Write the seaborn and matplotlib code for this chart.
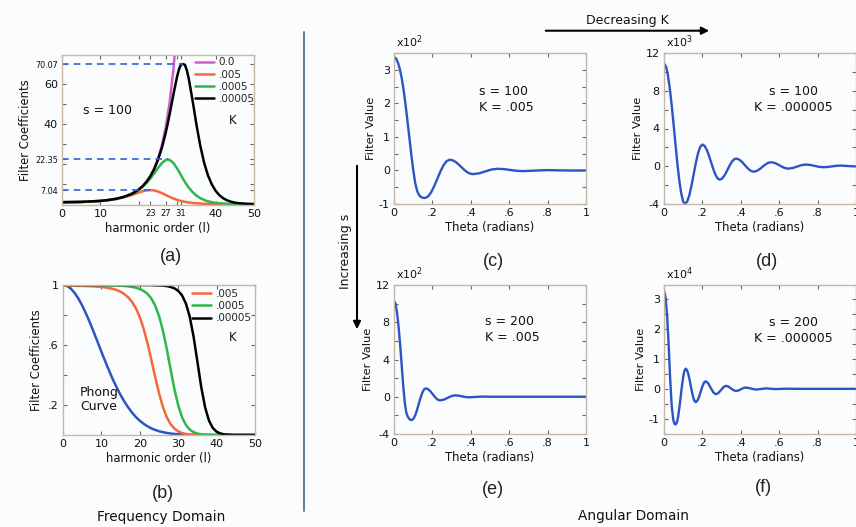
import matplotlib
matplotlib.use("Agg")
import matplotlib.pyplot as plt
import seaborn as sns
from matplotlib.patches import FancyArrowPatch
from matplotlib.lines import Line2D
from matplotlib.ticker import FixedLocator, MultipleLocator

# ---------------- data: panel (a) ----------------
l_a = [0, 5, 10, 12, 14, 16, 18, 19, 20, 21, 22, 23, 24, 25, 26, 27, 27.5, 28, 29, 30,
       30.5, 31, 31.5, 32, 32.5, 33, 34, 35, 36, 37, 38, 39, 40, 41, 42, 43, 44, 45, 46, 48, 50]
orange_a = [0.995, 1.126, 1.626, 2.011, 2.572, 3.378, 4.48, 5.13, 5.80, 6.43, 6.89, 7.05, 6.88,
            6.34, 5.53, 4.60, 4.13, 3.68, 2.86, 2.17, 1.88, 1.62, 1.39, 1.19, 1.01, 0.86, 0.62,
            0.44, 0.31, 0.21, 0.15, 0.10, 0.07, 0.045, 0.03, 0.02, 0.012, 0.008, 0.005, 0.002, 0.001]
green_a = [1.0, 1.133, 1.646, 2.050, 2.654, 3.573, 4.99, 5.97, 7.19, 8.71, 10.58, 12.82, 15.37,
           18.08, 20.52, 22.10, 22.35, 22.20, 20.65, 17.82, 16.15, 14.44, 12.76, 11.16, 9.67, 8.32,
           6.06, 4.33, 3.05, 2.13, 1.46, 1.0, 0.67, 0.45, 0.30, 0.19, 0.125, 0.08, 0.05, 0.02, 0.007]
black_a = [1.0, 1.133, 1.649, 2.054, 2.664, 3.595, 5.04, 6.07, 7.37, 9.03, 11.18, 13.95, 17.53,
           22.18, 28.16, 35.68, 40.02, 44.72, 54.73, 64.07, 67.63, 69.95, 70.07, 69.72, 67.04, 62.89,
           51.88, 39.92, 29.30, 20.83, 14.47, 9.95, 6.70, 4.47, 2.95, 1.93, 1.25, 0.80, 0.51, 0.20, 0.07]
l_pink = [0, 5, 10, 12, 14, 16, 18, 19, 20, 21, 22, 23, 24, 25, 26, 27, 28, 29, 30]
pink_a = [1.0, 1.133, 1.649, 2.054, 2.664, 3.597, 5.053, 6.08, 7.389, 9.07, 11.25, 14.08, 17.81,
          22.76, 29.37, 38.28, 50.40, 67.02, 90.02]
peak_l = [23, 27.5, 31.5]
peak_val = [7.04, 22.35, 70.07]
legend_a = ["0.0", ".005", ".0005", ".00005"]
xtick_a = [0, 10, 23, 27, 31, 40, 50]
ytick_a = [7.04, 22.35, 40, 60, 70.07]
ytick_a_labels = ["7.04", "22.35", "40", "60", "70.07"]

# ---------------- data: panel (b) ----------------
l_b = list(range(0, 51))
phong_b = [1.000, .994, .977, .948, .910, .863, .809, .750, .686, .621, .555, .491, .429, .370,
           .316, .266, .222, .183, .149, .119, .095, .075, .058, .044, .034, .025, .019, .014,
           .010, .007, .005, .0035, .0024, .0017, .0011, .0007] + [0.0] * 15
orange_b = [.995, .995, .995, .995, .994, .994, .993, .992, .991, .989, .987, .984, .979, .974,
            .966, .955, .939, .917, .887, .844, .786, .708, .613, .502, .387, .279, .188, .120,
            .073, .043, .024, .013, .007, .004, .002, .001] + [0.0] * 15
green_b = [1.0] * 10 + [.999, .998, .998, .997, .996, .995, .994, .991, .987, .982, .973, .960,
                        .941, .910, .863, .794, .699, .577, .440, .308, .198, .118, .067, .036,
                        .019, .0095, .0047, .002, .001] + [0.0] * 12
black_b = [1.0] * 21 + [.9996, .9994, .999, .998, .997, .996, .993, .987, .978, .961, .931, .877,
                        .789, .656, .489, .320, .185, .097, .047, .022, .0099, .0044, .0019,
                        .0008, .0003] + [0.0] * 5
legend_b = [".005", ".0005", ".00005"]

# ---------------- data: angular panels ----------------
theta_c = [0, .01, .02, .03, .04, .05, .06, .07, .08, .09, .10, .11, .12, .13, .14, .15, .161,
           .1771, .1933, .2094, .2255, .2416, .2578, .2739, .29,
           .305, .32, .335, .35, .365, .38, .395, .41,
           .4425, .475, .5075, .54, .5725, .605, .6375, .67, .735, .80, .865, .93, 1.0]
val_c = [3.38, 3.34, 3.22, 3.03, 2.76, 2.40, 1.97, 1.48, 0.98, 0.48, 0.02, -0.36, -0.60, -0.73,
         -0.79, -0.815, -0.82,
         -0.777, -0.654, -0.468, -0.25, -0.032, 0.154, 0.277, 0.32,
         0.304, 0.257, 0.187, 0.105, 0.023, -0.047, -0.094, -0.11,
         -0.087, -0.03, 0.027, 0.05, 0.04, 0.015, -0.01, -0.02, -0.005, 0.01, 0.002, -0.004, 0.0]

theta_d = [0, .01, .02, .03, .04, .05, .06, .07, .08, .09, .10, .109,
           .1204, .1318, .1431, .1545, .1659, .1773, .1886, .20,
           .2113, .2225, .2338, .245, .2563, .2675, .2788, .29,
           .3006, .3113, .3219, .3325, .3431, .3538, .3644, .375,
           .3865, .398, .4095, .421, .4325, .444, .4555, .467,
           .4783, .4895, .5008, .512, .5233, .5345, .5458, .557,
           .5684, .5798, .5911, .6025, .6139, .6253, .6366, .648,
           .6705, .693, .7155, .738, .761, .784, .807, .83,
           .8525, .875, .8975, .92, .96, 1.0]
val_d = [10.9, 10.59, 9.70, 8.29, 6.47, 4.42, 2.28, 0.22, -1.55, -2.91, -3.75, -3.95,
         -3.76, -3.08, -2.06, -0.85, 0.36, 1.38, 2.06, 2.3,
         2.16, 1.75, 1.15, 0.44, -0.27, -0.875, -1.28, -1.42,
         -1.335, -1.09, -0.73, -0.305, 0.12, 0.48, 0.725, 0.81,
         0.758, 0.608, 0.384, 0.12, -0.144, -0.368, -0.518, -0.57,
         -0.532, -0.425, -0.265, -0.075, 0.115, 0.275, 0.382, 0.42,
         0.395, 0.322, 0.213, 0.085, -0.043, -0.152, -0.225, -0.25,
         -0.187, -0.035, 0.117, 0.18, 0.139, 0.04, -0.059, -0.10,
         -0.075, -0.015, 0.045, 0.07, 0.02, -0.02]

theta_e = [0, .008, .016, .024, .032, .040, .048, .056, .064, .072, .080, .086, .092,
           .1011, .1103, .1194, .1285, .1376, .1468, .1559, .165,
           .1744, .1838, .1931, .2025, .2119, .2213, .2306, .24,
           .2595, .279, .2985, .318, .336, .354, .372, .39,
           .425, .46, .50, .6, .7, .8, .9, 1.0]
val_e = [10.3, 10.0, 9.0, 7.5, 5.6, 3.4, 1.2, -0.6, -1.7, -2.15, -2.40, -2.49, -2.5,
         -2.37, -2.0, -1.45, -0.8, -0.149, 0.402, 0.771, 0.9,
         0.851, 0.711, 0.502, 0.255, 0.008, -0.201, -0.341, -0.39,
         -0.311, -0.12, 0.071, 0.15, 0.119, 0.045, -0.029, -0.06,
         -0.02, 0.02, 0.0, 0.0, 0.0, 0.0, 0.0, 0.0]

theta_f = [0, .008, .016, .024, .032, .040, .048, .055, .061,
           .0675, .074, .0805, .087, .0935, .100, .1065, .113,
           .1195, .126, .1325, .139, .1455, .152, .1585, .165,
           .1715, .178, .1845, .191, .1975, .204, .2105, .217,
           .230, .243, .257, .270, .283, .297, .310, .323,
           .336, .349, .362, .375, .388, .401, .414, .427,
           .453, .48, .507, .533, .56, .585, .61, .65, .7, .8, .9, 1.0]
val_f = [3.27, 3.05, 2.45, 1.5, 0.35, -0.55, -1.02, -1.17, -1.18,
         -1.11, -0.91, -0.608, -0.255, 0.098, 0.40, 0.60, 0.67,
         0.628, 0.508, 0.327, 0.115, -0.097, -0.278, -0.398, -0.44,
         -0.414, -0.339, -0.227, -0.095, 0.037, 0.149, 0.224, 0.25,
         0.187, 0.035, -0.117, -0.18, -0.14, -0.04, 0.06, 0.10,
         0.075, 0.015, -0.045, -0.07, -0.053, -0.013, 0.028, 0.045,
         0.01, -0.025, -0.003, 0.015, 0.0, -0.008, 0.0, 0.004, 0.0, 0.0, 0.0, 0.0]

theta_ticks = [0, .2, .4, .6, .8, 1.0]
theta_labels = ["0", ".2", ".4", ".6", ".8", "1"]

# ---------------- style ----------------
sns.set_theme(style="ticks")
plt.rcParams["font.family"] = ["DejaVu Sans"]
BG = "#fbfcfd"
SPINE = "#c9b7a5"
ORANGE = "#f4693c"
GREEN = "#2fb64a"
MAGENTA = "#cf5fc8"
BLUE = "#2c55c3"
DASH = "#3262d4"
TXT = "#111111"

W, H = 856, 527
fig = plt.figure(figsize=(W / 100, H / 100), dpi=100, facecolor=BG)


def add_ax(x0, y0, x1, y1):
    ax = fig.add_axes([x0 / W, 1 - y1 / H, (x1 - x0) / W, (y1 - y0) / H])
    ax.set_facecolor(BG)
    for s in ax.spines.values():
        s.set_color(SPINE)
        s.set_linewidth(1.0)
    ax.tick_params(which="both", direction="in", top=True, right=True, length=3,
                   width=0.8, color="#666666", labelsize=8, pad=3, labelcolor=TXT)
    return ax


# ---------------- panel (a) ----------------
axa = add_ax(62, 55, 254, 205)
sns.lineplot(x=l_pink, y=pink_a, ax=axa, color=MAGENTA, linewidth=1.8, label=legend_a[0], legend=False)
sns.lineplot(x=l_a, y=orange_a, ax=axa, color=ORANGE, linewidth=1.8, label=legend_a[1], legend=False)
sns.lineplot(x=l_a, y=green_a, ax=axa, color=GREEN, linewidth=1.8, label=legend_a[2], legend=False)
sns.lineplot(x=l_a, y=black_a, ax=axa, color="black", linewidth=1.8, label=legend_a[3], legend=False)
axa.hlines(peak_val, 0, peak_l, colors=DASH, linestyles=(0, (4, 3)), linewidth=1.2, clip_on=False)
axa.set_xlim(0, 50)
axa.set_ylim(-0.4, 74.6)
axa.set_xticks(xtick_a)
axa.set_xticklabels([str(v) for v in xtick_a])
for lab, fs in zip(axa.get_xticklabels(), [8, 8, 6, 6, 6, 8, 8]):
    lab.set_fontsize(fs)
axa.xaxis.set_minor_locator(FixedLocator([20, 30]))
axa.set_yticks(ytick_a)
axa.set_yticklabels(ytick_a_labels)
for lab, fs in zip(axa.get_yticklabels(), [5.8, 5.8, 8, 8, 5.8]):
    lab.set_fontsize(fs)
axa.yaxis.set_minor_locator(FixedLocator([10, 20, 30, 50]))
axa.set_xlabel("harmonic order (l)", fontsize=8.4, labelpad=2, color=TXT)
axa.set_ylabel("Filter Coefficients", fontsize=8.4, labelpad=2, color=TXT)
axa.legend(loc="upper left", bbox_to_anchor=(0.693, 0.985), frameon=False, fontsize=7.5,
           handlelength=1.8, handletextpad=0.45, labelspacing=0.22, borderpad=0, borderaxespad=0)
axa.text(0.89, 0.56, "K", transform=axa.transAxes, ha="center", va="center", fontsize=8.5, color=TXT)
axa.text(0.109, 0.633, "s = 100", transform=axa.transAxes, ha="left", va="center", fontsize=9, color=TXT)

# ---------------- panel (b) ----------------
axb = add_ax(63, 285, 255, 435)
sns.lineplot(x=l_b, y=phong_b, ax=axb, color=BLUE, linewidth=1.8, legend=False)
sns.lineplot(x=l_b, y=orange_b, ax=axb, color=ORANGE, linewidth=1.8, label=legend_b[0], legend=False)
sns.lineplot(x=l_b, y=green_b, ax=axb, color=GREEN, linewidth=1.8, label=legend_b[1], legend=False)
sns.lineplot(x=l_b, y=black_b, ax=axb, color="black", linewidth=1.8, label=legend_b[2], legend=False)
axb.set_xlim(0, 50)
axb.set_ylim(0, 1.0)
axb.set_xticks([0, 10, 20, 30, 40, 50])
axb.set_yticks([0.2, 0.6, 1.0])
axb.set_yticklabels([".2", ".6", "1"])
axb.yaxis.set_minor_locator(FixedLocator([0.4, 0.8]))
axb.set_xlabel("harmonic order (l)", fontsize=8.4, labelpad=2, color=TXT)
axb.set_ylabel("Filter Coefficients", fontsize=8.4, labelpad=4, color=TXT)
handles, labels = axb.get_legend_handles_labels()
axb.legend(handles, labels, loc="upper left", bbox_to_anchor=(0.672, 0.975), frameon=False,
           fontsize=7.5, handlelength=1.8, handletextpad=0.45, labelspacing=0.22, borderpad=0,
           borderaxespad=0)
axb.text(0.885, 0.653, "K", transform=axb.transAxes, ha="center", va="center", fontsize=8.5, color=TXT)
axb.text(0.0885, 0.327, "Phong\nCurve", transform=axb.transAxes, ha="left", va="top",
         fontsize=9, linespacing=1.15, color=TXT)


# ---------------- angular panels ----------------
def angular(box, theta, vals, ylim, major, minor_step, expo, txt, txt_xy, ha):
    ax = add_ax(*box)
    sns.lineplot(x=theta, y=vals, ax=ax, color=BLUE, linewidth=1.7, legend=False)
    ax.set_xlim(0, 1)
    ax.set_ylim(*ylim)
    ax.set_xticks(theta_ticks)
    ax.set_xticklabels(theta_labels)
    ax.set_yticks(major)
    ax.set_yticklabels([str(m) for m in major])
    ax.yaxis.set_minor_locator(MultipleLocator(minor_step))
    ax.set_xlabel("Theta (radians)", fontsize=8.4, labelpad=2, color=TXT)
    ax.set_ylabel("Filter Value", fontsize=8.2, labelpad=2, color=TXT)
    ax.text(0.01, 1.02, "x10$^{%d}$" % expo, transform=ax.transAxes, ha="left", va="bottom",
            fontsize=8, color=TXT)
    ax.text(txt_xy[0], txt_xy[1], txt, transform=ax.transAxes, ha=ha, va="top",
            multialignment=ha, fontsize=9, linespacing=1.3, color=TXT)
    return ax


angular((394, 53, 586, 204), theta_c, val_c, (-1, 3.5), [-1, 0, 1, 2, 3], 0.5, 2,
        "s = 100\nK = .005", (0.443, 0.79), "left")
angular((664, 53, 856, 204), theta_d, val_d, (-4, 12), [-4, 0, 4, 8, 12], 2, 3,
        "s = 100\nK = .000005", (0.672, 0.79), "center")
angular((394, 285, 586, 434), theta_e, val_e, (-4, 12), [-4, 0, 4, 8, 12], 2, 2,
        "s = 200\nK = .005", (0.474, 0.80), "left")
angular((664, 285, 856, 434), theta_f, val_f, (-1.5, 3.45), [-1, 0, 1, 2, 3], 0.5, 4,
        "s = 200\nK = .000005", (0.672, 0.79), "center")

# ---------------- figure annotations ----------------
def fx(x):
    return x / W


def fy(y):
    return 1 - y / H


for lbl, (x, y) in zip(["(a)", "(b)", "(c)", "(d)", "(e)", "(f)"],
                       [(171, 256), (163, 494), (493, 262), (767, 262), (493, 490), (763, 488)]):
    fig.text(fx(x), fy(y), lbl, ha="center", va="center", fontsize=13,
             family=["Liberation Sans"], color="#222222")

fig.text(fx(161), fy(517), "Frequency Domain", ha="center", va="center", fontsize=9.8, color=TXT)
fig.text(fx(634), fy(516), "Angular Domain", ha="center", va="center", fontsize=9.8, color=TXT)
fig.text(fx(627), fy(20.5), "Decreasing K", ha="center", va="center", fontsize=9, color=TXT)
fig.text(fx(345), fy(251), "Increasing s", ha="center", va="center", rotation=90, fontsize=9, color=TXT)

fig.add_artist(FancyArrowPatch((fx(543), fy(30.7)), (fx(712), fy(30.7)), transform=fig.transFigure,
                               arrowstyle="-|>", mutation_scale=11, linewidth=1.5, color="black"))
fig.add_artist(FancyArrowPatch((fx(357), fy(163)), (fx(357), fy(332)), transform=fig.transFigure,
                               arrowstyle="-|>", mutation_scale=11, linewidth=1.5, color="black"))
fig.add_artist(Line2D([fx(304), fx(304)], [fy(32), fy(511)], transform=fig.transFigure,
                      color="#5f7d8e", linewidth=1.4))

fig.savefig("out.png", dpi=100, facecolor=BG)
